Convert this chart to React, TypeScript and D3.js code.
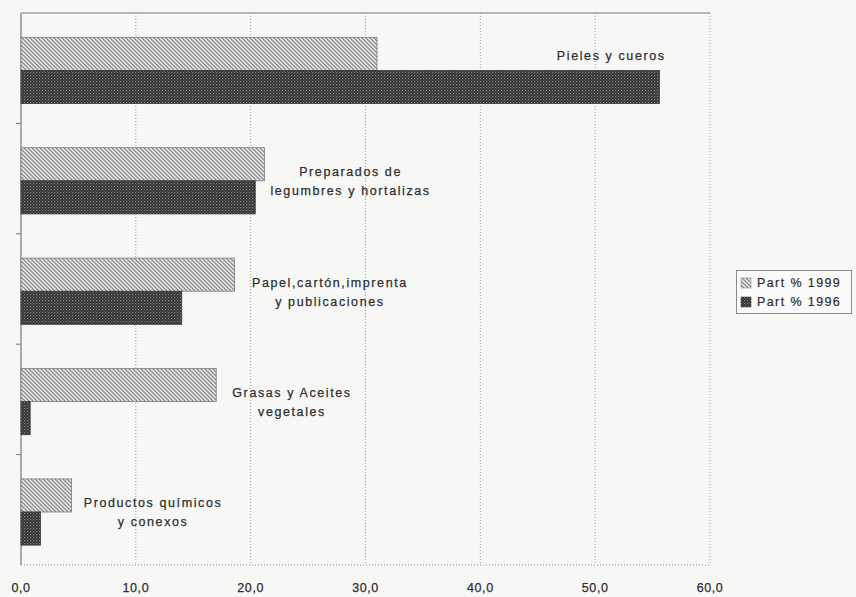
import React from "react";
import * as d3 from "d3";

const categories = [
  "Pieles y cueros",
  "Preparados de legumbres y hortalizas",
  "Papel,cartón,imprenta y publicaciones",
  "Grasas y Aceites vegetales",
  "Productos químicos y conexos",
];
const labelLines = [
  ["Pieles y cueros"],
  ["Preparados de", "legumbres y hortalizas"],
  ["Papel,cartón,imprenta", "y publicaciones"],
  ["Grasas y Aceites", "vegetales"],
  ["Productos químicos", "y conexos"],
];
const labelAt = [51.4, 28.7, 26.9, 23.6, 11.5];
const series = ["Part % 1999", "Part % 1996"];
const v1999 = [31.0, 21.2, 18.6, 17.0, 4.4];
const v1996 = [55.6, 20.4, 14.0, 0.8, 1.7];
const xTicks = [0, 10, 20, 30, 40, 50, 60];

const W = 856;
const H = 597;
const left = 21;
const right = 710;
const top = 13;
const bottom = 565;
const FONT = "'Liberation Sans', Arial, sans-serif";
const TXT = "#2e2e2e";

export default function App() {
  const x = d3.scaleLinear().domain([0, 60]).range([left, right]);
  const y = d3
    .scaleBand<string>()
    .domain(categories)
    .range([top, bottom])
    .paddingInner(0.4)
    .paddingOuter(0.2)
    .align(0.55);
  const idx = d3.scaleLinear().domain([0, categories.length]).range([top, bottom]);
  const bh = y.bandwidth() / 2;
  const fmt = (v: number) => d3.format(".1f")(v).replace(".", ",");

  return (
    <svg
      width={W}
      height={H}
      style={{ position: "absolute", left: 0, top: 0, background: "#f7f7f6" }}
    >
      <defs>
        <pattern id="p1999" width="4" height="4" patternUnits="userSpaceOnUse">
          <rect width="4" height="4" fill="#ececec" />
          <path d="M-1,-1 L5,5 M-1,3 L1,5 M3,-1 L5,1" stroke="#8a8a8a" strokeWidth="1.3" />
        </pattern>
        <pattern id="p1996" width="3" height="3" patternUnits="userSpaceOnUse">
          <rect width="3" height="3" fill="#2e2e2e" />
          <rect x="0" y="0" width="1.2" height="1.2" fill="#8c8c8c" />
          <rect x="1.5" y="1.5" width="1.2" height="1.2" fill="#6a6a6a" />
        </pattern>
      </defs>

      {xTicks.slice(1).map((t) => (
        <line
          key={"g" + t}
          x1={x(t)}
          x2={x(t)}
          y1={top}
          y2={bottom}
          stroke="#9a9a9a"
          strokeWidth={1}
          strokeDasharray="1,2"
        />
      ))}
      <line x1={left} x2={right} y1={top} y2={top} stroke="#7a7a7a" strokeWidth={1.2} />
      <line
        x1={left}
        x2={right}
        y1={bottom}
        y2={bottom}
        stroke="#8a8a8a"
        strokeWidth={1}
        strokeDasharray="1,2"
      />
      <line x1={left} x2={left} y1={top} y2={bottom} stroke="#7a7a7a" strokeWidth={1.2} />
      {d3.range(1, categories.length).map((i) => (
        <line
          key={"t" + i}
          x1={left - 5}
          x2={left}
          y1={idx(i)}
          y2={idx(i)}
          stroke="#7a7a7a"
          strokeWidth={1}
        />
      ))}

      {categories.map((c, i) => (
        <g key={c}>
          <rect
            x={x(0)}
            y={y(c)!}
            width={x(v1999[i]) - x(0)}
            height={bh}
            fill="url(#p1999)"
            stroke="#7c7c7c"
            strokeWidth={0.8}
          />
          <rect
            x={x(0)}
            y={y(c)! + bh}
            width={x(v1996[i]) - x(0)}
            height={bh}
            fill="url(#p1996)"
            stroke="#3a3a3a"
            strokeWidth={0.8}
          />
        </g>
      ))}

      {categories.map((c, i) => {
        const lines = labelLines[i];
        const mid = y(c)! + bh;
        const ys = lines.length === 1 ? [mid - 15] : [mid - 9, mid + 10];
        return (
          <text
            key={"l" + c}
            fontFamily={FONT}
            fontSize={12.5}
            letterSpacing={1.6}
            fill={TXT}
            stroke={TXT}
            strokeWidth={0.25}
            textAnchor="middle"
          >
            {lines.map((ln, k) => (
              <tspan key={k} x={x(labelAt[i])} y={ys[k]} dy="0.35em">
                {ln}
              </tspan>
            ))}
          </text>
        );
      })}

      {xTicks.map((t) => (
        <text
          key={"x" + t}
          x={x(t)}
          y={588}
          dy="0.35em"
          fontFamily={FONT}
          fontSize={12.5}
          letterSpacing={0.6}
          fill={TXT}
          stroke={TXT}
          strokeWidth={0.25}
          textAnchor="middle"
        >
          {fmt(t)}
        </text>
      ))}

      <g>
        <rect x={736.5} y={270.5} width={115} height={43} fill="#fafafa" stroke="#8a8a8a" strokeWidth={1} />
        {series.map((s, k) => (
          <g key={s}>
            <rect
              x={741}
              y={278 + k * 19}
              width={10}
              height={10}
              fill={k === 0 ? "url(#p1999)" : "url(#p1996)"}
              stroke={k === 0 ? "#8a8a8a" : "#3a3a3a"}
              strokeWidth={0.6}
            />
            <text
              x={757}
              y={283 + k * 19}
              dy="0.35em"
              fontFamily={FONT}
              fontSize={12.5}
              letterSpacing={1.4}
              fill={TXT}
              stroke={TXT}
              strokeWidth={0.2}
            >
              {s}
            </text>
          </g>
        ))}
      </g>
    </svg>
  );
}
